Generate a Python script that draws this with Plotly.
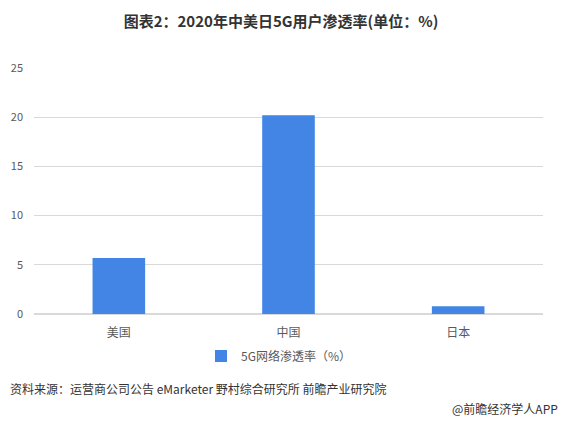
import plotly.graph_objects as go

categories = ["美国", "中国", "日本"]
values = [5.7, 20.2, 0.8]
tick_vals = [0, 5, 10, 15, 20, 25]
series_name = "5G网络渗透率（%）"

fig = go.Figure()
fig.add_trace(go.Bar(
    x=categories, y=values, name=series_name,
    marker=dict(color="#4285e5", line=dict(width=0)),
    width=0.31,
))

fig.update_layout(
    width=562, height=423,
    margin=dict(l=34, r=19, t=68, b=109),
    paper_bgcolor="white", plot_bgcolor="white",
    font=dict(family="Noto Sans CJK SC, Microsoft YaHei, sans-serif", color="#595959", size=11),
    title=dict(text="<b>图表2：2020年中美日5G用户渗透率(单位：%)</b>",
               x=0.5, xanchor="center", y=0.948, yanchor="middle",
               font=dict(size=15, color="#333333")),
    showlegend=True,
    legend=dict(orientation="h", x=0.5 - 10/509, xanchor="center", y=-0.171, yanchor="middle",
                font=dict(size=12, color="#595959"), itemwidth=30),
    yaxis=dict(range=[0, 25], tickvals=tick_vals, showgrid=True, gridcolor="#d9d9d9",
               gridwidth=1, zeroline=True, zerolinecolor="#d9d9d9", ticks="",
               showline=False, tickfont=dict(size=11, color="#595959"), ticklabelstandoff=10),
    xaxis=dict(showline=True, linecolor="#d9d9d9", ticks="", tickfont=dict(size=12, color="#595959"),
               ticklabelstandoff=8),
    bargap=0.69,
)

fig.add_annotation(text="资料来源：运营商公司公告 eMarketer 野村综合研究所 前瞻产业研究院",
                   xref="paper", yref="paper", x=-26/509, y=-74/246, xanchor="left", yanchor="middle",
                   showarrow=False, font=dict(size=12, color="#333333"))
fig.add_annotation(text="@前瞻经济学人APP",
                   xref="paper", yref="paper", x=(560-34)/509, y=-94/246, xanchor="right", yanchor="middle",
                   showarrow=False, font=dict(size=12, color="#333333"))

fig.write_html("out.html", config={"displayModeBar": False},
               post_script="document.body.style.margin='0';")
